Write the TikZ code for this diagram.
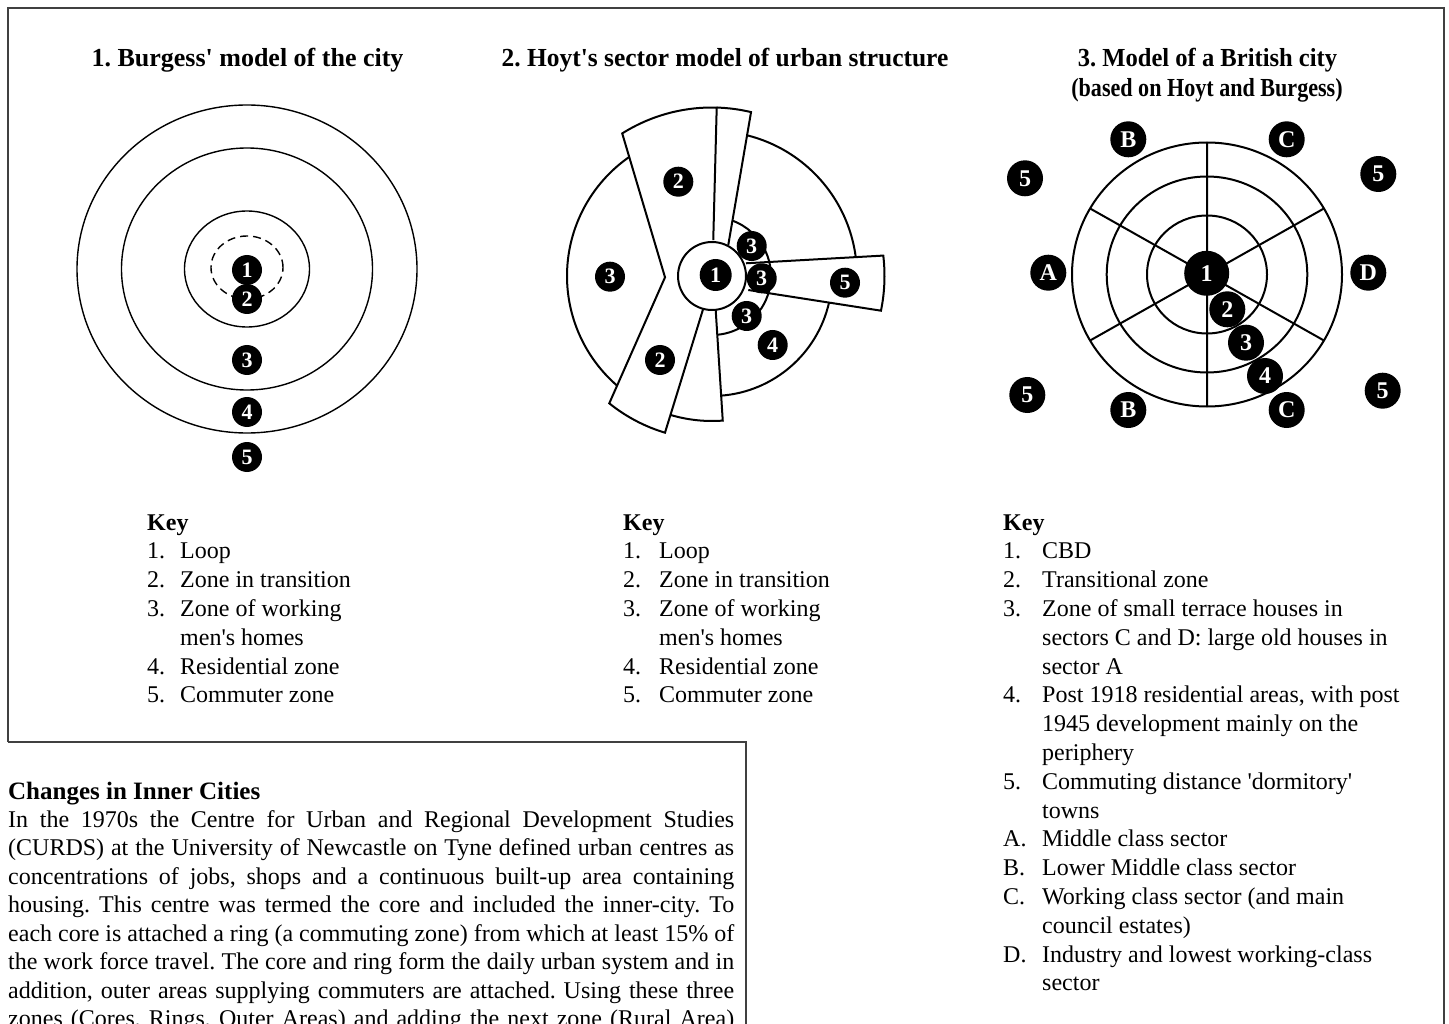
\documentclass[tikz,border=0pt]{standalone}
\usepackage{fontspec}
\setmainfont{Liberation Serif}[Ligatures=TeXOff]
\usepackage{tikz}
\frenchspacing

\newcommand{\jl}[1]{\makebox[726pt][s]{#1}}
\newcommand{\keyfont}{\fontsize{24}{28.8}\selectfont}

\begin{document}
\begin{tikzpicture}[x=1pt, y=-1pt,
    badge/.style={circle, fill=black, text=white, inner sep=0pt, minimum size=30pt, font=\bfseries\fontsize{22}{22}\selectfont},
    bigbadge/.style={badge, minimum size=36pt, font=\bfseries\fontsize{24}{24}\selectfont},
    title/.style={anchor=base, inner sep=0pt, font=\bfseries\fontsize{26}{30}\selectfont},
    keytab/.style={anchor=base west, inner sep=0pt, font=\keyfont},
    frame/.style={draw=black!75, line width=2pt},
    zone/.style={line width=1.4pt},
    sector/.style={line width=2pt}]
    \useasboundingbox (0,0) rectangle (1449,1024);
    \draw[frame] (8,742) -- (8,8) -- (1444,8) -- (1444,1030);
    \draw[frame] (8,742) -- (746,742) -- (746,1030);

    \node[title] (burgess) at (247.5,67) {1. Burgess' model of the city};
    \node[title] (hoyt) at (725,67) {\scalebox{0.978}[1]{2. Hoyt's sector model of urban structure}};
    \node[title] (british) at (1207.5,67) {\scalebox{0.945}[1]{3. Model of a British city}};
    \node[title] (based) at (1207,97) {\scalebox{0.85}[1]{(based on Hoyt and Burgess)}};

    \draw[zone] (247,269) ellipse[x radius=170pt, y radius=164pt];
    \draw[zone] (247,269) ellipse[x radius=125.5pt, y radius=121pt];
    \draw[zone] (247,269) ellipse[x radius=62.5pt, y radius=58pt];
    \draw[zone, dash pattern=on 8pt off 5pt] (247,267.5) ellipse[x radius=36pt, y radius=31.5pt];
    \node[badge] (bu1) at (247,270) {1};
    \node[badge] (bu2) at (247,299) {2};
    \node[badge] (bu3) at (247,360) {3};
    \node[badge] (bu4) at (247,412) {4};
    \node[badge] (bu5) at (247,457) {5};

    \begin{scope}[shift={(712,276)}, sector]
        \draw (88:36pt) -- (88.4:168.5pt) arc[start angle=88.4, end angle=122.2, radius=168.5pt]
            -- (181.6:47pt) -- (231.1:163.6pt) arc[start angle=231.1, end angle=253.3, radius=163.6pt] -- (255:33.5pt);
        \draw (88.4:168.5pt) arc[start angle=88.4, end angle=76.6, radius=168.5pt] -- (62.3:35pt);
        \draw (20.5:36.3pt) -- (6.8:172.5pt) arc[start angle=6.8, end angle=-11.6, radius=172.5pt] -- (-21.1:38.9pt);
        \draw (253.4:145pt) arc[start angle=253.4, end angle=274.25, radius=145pt] -- (276.2:34.2pt);
        \draw (125:145pt) arc[start angle=125, end angle=229, radius=145pt];
        \draw (76:145pt) arc[start angle=76, end angle=7.5, radius=145pt];
        \draw (-12.8:120pt) arc[start angle=-12.8, end angle=-85.6, radius=120pt];
        \draw (70:59pt) arc[start angle=70, end angle=-85, radius=59pt];
    \end{scope}
    \node[circle, draw, sector, fill=white, inner sep=0pt, minimum size=68pt] (cbd) at (712,276) {};
    \node[badge, minimum size=32pt] (ho1) at (715.7,275) {1};
    \node[badge] (ho2a) at (678.3,181.7) {2};
    \node[badge] (ho2b) at (660,360) {2};
    \node[badge] (ho3a) at (610,276.7) {3};
    \node[badge] (ho3b) at (751.7,246) {3};
    \node[badge] (ho3c) at (761.7,278.3) {3};
    \node[badge] (ho3d) at (746.7,316) {3};
    \node[badge] (ho4) at (772.7,345) {4};
    \node[badge] (ho5) at (845,282.7) {5};

    \coordinate (bc) at (1207,274.5);
    \draw[sector] (bc) ellipse[x radius=135pt, y radius=132pt];
    \draw[sector] (bc) ellipse[x radius=100.3pt, y radius=98pt];
    \draw[sector] (bc) ellipse[x radius=60pt, y radius=59pt];
    \draw[sector] (bc) -- ++(30:135pt and 132pt) (bc) -- ++(90:135pt and 132pt)
        (bc) -- ++(150:135pt and 132pt) (bc) -- ++(210:135pt and 132pt)
        (bc) -- ++(270:135pt and 132pt) (bc) -- ++(330:135pt and 132pt);
    \node[bigbadge, minimum size=45pt] (br1) at (1206.7,273.3) {1};
    \node[bigbadge] (br2) at (1227.3,309.3) {2};
    \node[bigbadge] (br3) at (1246,342.7) {3};
    \node[bigbadge] (br4) at (1265,376) {4};
    \node[bigbadge] (brA) at (1048.3,272.7) {A};
    \node[bigbadge] (brD) at (1368.3,272.7) {D};
    \node[bigbadge] (brBt) at (1128.3,139.3) {B};
    \node[bigbadge] (brCt) at (1286.7,139.3) {C};
    \node[bigbadge] (brBb) at (1128.3,410) {B};
    \node[bigbadge] (brCb) at (1286.7,410) {C};
    \node[bigbadge] (br5a) at (1025,178.3) {5};
    \node[bigbadge] (br5b) at (1378.3,174) {5};
    \node[bigbadge] (br5c) at (1027.3,395) {5};
    \node[bigbadge] (br5d) at (1382.7,390.7) {5};

    \node[keytab] (key1) at (147,530) {\begin{tabular}[t]{@{}p{33pt}@{}l@{}}
        \multicolumn{2}{@{}l@{}}{\textbf{Key}}\\
        1. & Loop\\
        2. & Zone in transition\\
        3. & Zone of working\\
           & men's homes\\
        4. & Residential zone\\
        5. & Commuter zone
    \end{tabular}};
    \node[keytab] (key2) at (623,530) {\begin{tabular}[t]{@{}p{36pt}@{}l@{}}
        \multicolumn{2}{@{}l@{}}{\textbf{Key}}\\
        1. & Loop\\
        2. & Zone in transition\\
        3. & Zone of working\\
           & men's homes\\
        4. & Residential zone\\
        5. & Commuter zone
    \end{tabular}};
    \node[keytab] (key3) at (1003,530) {\begin{tabular}[t]{@{}p{39pt}@{}l@{}}
        \multicolumn{2}{@{}l@{}}{\textbf{Key}}\\
        1. & CBD\\
        2. & Transitional zone\\
        3. & Zone of small terrace houses in\\
           & sectors C and D: large old houses in\\
           & sector A\\
        4. & Post 1918 residential areas, with post\\
           & 1945 development mainly on the\\
           & periphery\\
        5. & Commuting distance 'dormitory'\\
           & towns\\
        A. & Middle class sector\\
        B. & Lower Middle class sector\\
        C. & Working class sector (and main\\
           & council estates)\\
        D. & Industry and lowest working-class\\
           & sector
    \end{tabular}};

    \node[anchor=base west, inner sep=0pt, font=\bfseries\fontsize{25}{28.5}\selectfont] (changes) at (8,799) {Changes in Inner Cities};
    \node[anchor=base west, inner sep=0pt, font=\fontsize{24}{28.5}\selectfont] (inner) at (8,827) {\begin{tabular}[t]{@{}l@{}}
        \jl{In the 1970s the Centre for Urban and Regional Development Studies}\\
        \jl{(CURDS) at the University of Newcastle on Tyne defined urban centres as}\\
        \jl{concentrations of jobs, shops and a continuous built-up area containing}\\
        \jl{housing. This centre was termed the core and included the inner-city. To}\\
        \jl{each core is attached a ring (a commuting zone) from which at least 15\% of}\\
        \jl{the work force travel. The core and ring form the daily urban system and in}\\
        \jl{addition, outer areas supplying commuters are attached. Using these three}\\
        \jl{zones (Cores, Rings, Outer Areas) and adding the next zone (Rural Area)}
    \end{tabular}};
\end{tikzpicture}
\end{document}
